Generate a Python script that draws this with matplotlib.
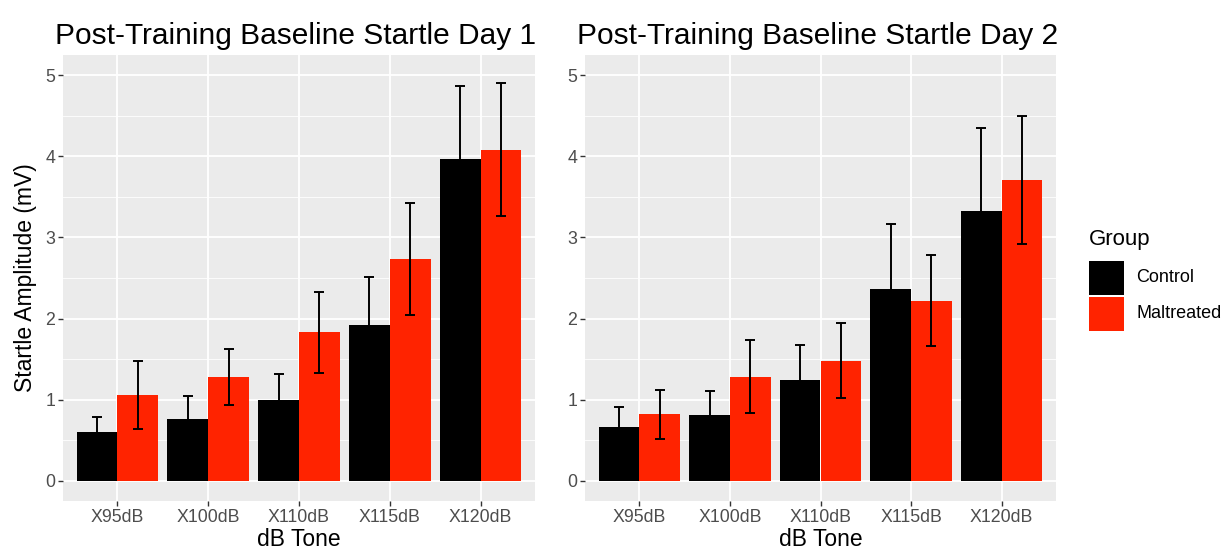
import matplotlib.pyplot as plt
from matplotlib.patches import Rectangle
from matplotlib.transforms import offset_copy
import numpy as np

plt.rcParams["font.family"] = ["Liberation Sans", "DejaVu Sans"]

tones = ["X95dB", "X100dB", "X110dB", "X115dB", "X120dB"]
groups = ["Control", "Maltreated"]
colors = ["#000000", "#FF2300"]

# Day 1 means and standard errors
day1_control = [0.60, 0.76, 1.00, 1.92, 3.97]
day1_control_se = [0.19, 0.29, 0.31, 0.59, 0.90]
day1_maltreated = [1.06, 1.28, 1.83, 2.73, 4.08]
day1_maltreated_se = [0.42, 0.34, 0.50, 0.69, 0.82]

# Day 2 means and standard errors
day2_control = [0.66, 0.81, 1.24, 2.36, 3.33]
day2_control_se = [0.25, 0.30, 0.43, 0.81, 1.02]
day2_maltreated = [0.82, 1.28, 1.48, 2.22, 3.71]
day2_maltreated_se = [0.30, 0.45, 0.46, 0.56, 0.79]

W, H = 1229, 559
fig = plt.figure(figsize=(W / 100, H / 100), dpi=100)
ax1 = fig.add_axes([63 / W, 58 / H, 472 / W, 446 / H])
ax2 = fig.add_axes([585 / W, 58 / H, 471 / W, 446 / H])


def draw_panel(ax, title, means, ses, ylabel=None):
    ax.set_facecolor("#EBEBEB")
    for s in ax.spines.values():
        s.set_visible(False)
    x = np.arange(len(tones))
    w = 0.45
    for i, (m, se) in enumerate(zip(means, ses)):
        xs = x + (i - 0.5) * w
        ax.bar(xs, m, width=w, color=colors[i], label=groups[i], zorder=2)
        ax.errorbar(xs, m, yerr=se, fmt="none", ecolor="black", elinewidth=1.4,
                    capsize=3.6, capthick=1.4, zorder=3)
    ax.set_xlim(-0.6, len(tones) - 0.4)
    ax.set_ylim(-0.25, 5.25)
    ax.set_xticks(x)
    ax.set_xticklabels(tones)
    ax.set_yticks(range(6))
    ax.set_yticks(np.arange(0.5, 5.0, 1.0), minor=True)
    ax.grid(which="major", color="white", linewidth=1.3, zorder=0)
    ax.grid(which="minor", axis="y", color="white", linewidth=0.6, zorder=0)
    ax.set_axisbelow(True)
    ax.tick_params(which="major", length=3.5, width=1.0, color="#333333",
                   labelcolor="#4D4D4D", labelsize=12.8, pad=2)
    ax.tick_params(which="minor", length=0)
    ax.set_xlabel("dB Tone", fontsize=16.5, labelpad=2)
    if ylabel:
        ax.set_ylabel(ylabel, fontsize=16.5, labelpad=6)
    t = ax.set_title(title, fontsize=21.5, loc="left", pad=8)
    t.set_transform(offset_copy(t.get_transform(), fig=fig, x=-8, units="dots"))


draw_panel(ax1, "Post-Training Baseline Startle Day 1",
           [day1_control, day1_maltreated], [day1_control_se, day1_maltreated_se],
           ylabel="Startle Amplitude (mV)")
draw_panel(ax2, "Post-Training Baseline Startle Day 2",
           [day2_control, day2_maltreated], [day2_control_se, day2_maltreated_se])

# Legend drawn by hand in figure pixels
fig.text(1089 / W, 1 - 245 / H, "Group", fontsize=16, va="baseline", ha="left")
key_tops = [261, 297]
for top, g, c in zip(key_tops, groups, colors):
    fig.add_artist(Rectangle((1089 / W, 1 - (top + 34) / H), 35 / W, 34 / H,
                             transform=fig.transFigure, facecolor=c,
                             edgecolor="none"))
    fig.text(1136 / W, 1 - (top + 17) / H, g, fontsize=13, va="center", ha="left")

fig.savefig("out.png", dpi=100)
